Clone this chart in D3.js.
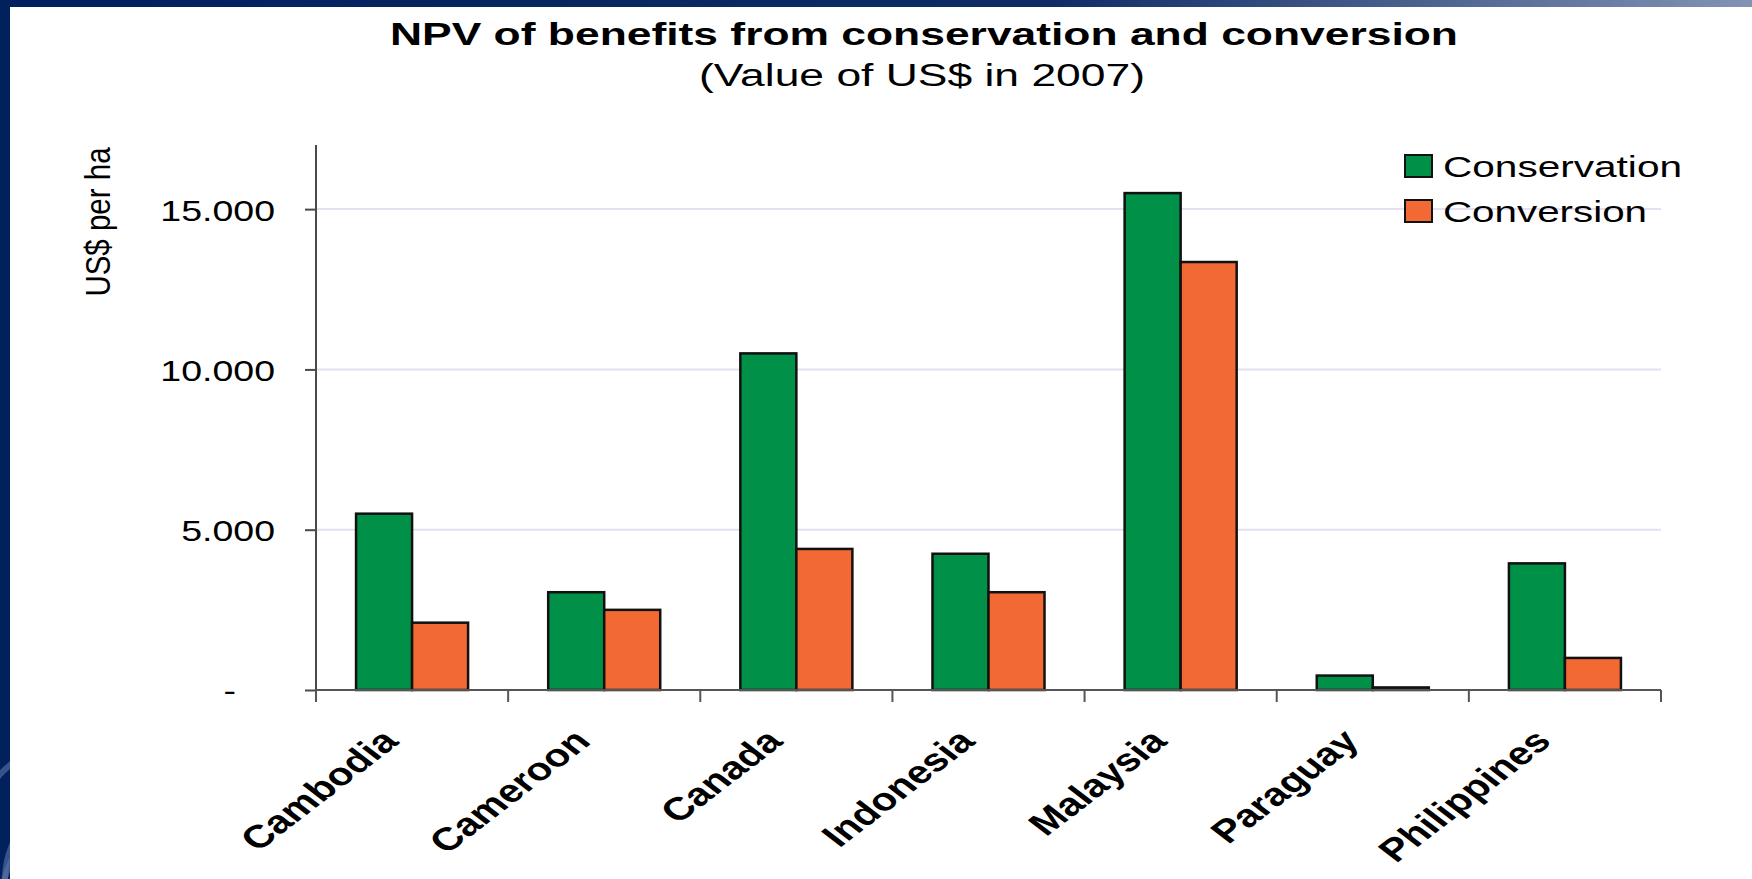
<!DOCTYPE html>
<html>
<head>
<meta charset="utf-8">
<script src="https://cdn.jsdelivr.net/npm/d3@7"></script>
<style>
    body { margin: 0; background: #ffffff; overflow: hidden; }
    svg { display: block; }
    text { font-family: "Liberation Sans", Arial, sans-serif; fill: #000000; }
</style>
</head>
<body>
<svg id="chart"></svg>
<script>
// Data ----------------------------------------
const countries = ["Cambodia", "Cameroon", "Canada", "Indonesia", "Malaysia", "Paraguay", "Philippines"];
const seriesNames = ["Conservation", "Conversion"];
const conservation = [5500, 3050, 10500, 4250, 15500, 450, 3950];
const conversion = [2100, 2500, 4400, 3050, 13350, 80, 1000];
const yTicks = [0, 5000, 10000, 15000];
const yTickLabels = ["-", "5.000", "10.000", "15.000"];
const colors = ["#009048", "#f26933"];

const width = 1752, height = 879;

let svg = d3.select("#chart")
    .attr("width", width)
    .attr("height", height);

// Slide frame ----------------------------------------
let defs = svg.append("defs");
let grad = defs.append("linearGradient").attr("id", "topGrad");
grad.append("stop").attr("offset", "0%").attr("stop-color", "#00215c");
grad.append("stop").attr("offset", "60%").attr("stop-color", "#0f2c66");
grad.append("stop").attr("offset", "100%").attr("stop-color", "#8293b4");

svg.append("rect").attr("x", 0).attr("y", 0).attr("width", width).attr("height", 7).attr("fill", "url(#topGrad)");
svg.append("rect").attr("x", 0).attr("y", 0).attr("width", 10).attr("height", height).attr("fill", "#00215c");

// faint swirl at the bottom of the left strip
defs.append("clipPath").attr("id", "stripClip")
    .append("rect").attr("x", 0).attr("y", 0).attr("width", 10).attr("height", height);
let swirl = svg.append("g").attr("clip-path", "url(#stripClip)");
[[80, 850, 110], [95, 880, 90], [110, 910, 110]].forEach(c => {
    swirl.append("circle")
        .attr("cx", c[0]).attr("cy", c[1]).attr("r", c[2])
        .attr("fill", "none")
        .attr("stroke", "#5a74a8")
        .attr("stroke-opacity", 0.6)
        .attr("stroke-width", 6);
});

// Scales ----------------------------------------
let x0 = d3.scaleBand()
    .domain(countries)
    .range([316, 1661])
    .paddingInner(0)
    .paddingOuter(0);

let x1 = d3.scaleBand()
    .domain(seriesNames)
    .range([0, x0.bandwidth()])
    .paddingInner(0)
    .paddingOuter(0.715);

let y = d3.scaleLinear()
    .domain([0, 17000])
    .range([690, 145]);

// Gridlines
svg.append("g")
    .selectAll("line")
    .data(yTicks.filter(d => d > 0))
    .enter().append("line")
    .attr("x1", x0.range()[0])
    .attr("x2", x0.range()[1])
    .attr("y1", d => y(d))
    .attr("y2", d => y(d))
    .attr("stroke", "#e4e0f2")
    .attr("stroke-width", 2);

// Bars ----------------------------------------
let groups = svg.append("g")
    .selectAll("g")
    .data(countries)
    .enter().append("g")
    .attr("transform", d => `translate(${x0(d)},0)`);

groups.selectAll("rect")
    .data((d, i) => [
        { key: seriesNames[0], value: conservation[i], c: colors[0] },
        { key: seriesNames[1], value: conversion[i], c: colors[1] }
    ])
    .enter().append("rect")
    .attr("x", d => x1(d.key))
    .attr("y", d => y(d.value))
    .attr("width", x1.bandwidth())
    .attr("height", d => y(0) - y(d.value))
    .attr("fill", d => d.c)
    .attr("stroke", "#111111")
    .attr("stroke-width", 2.5);

// Axes ----------------------------------------
let yAxis = svg.append("g")
    .attr("transform", `translate(${x0.range()[0]},0)`)
    .call(d3.axisLeft(y).tickValues(yTicks).tickSize(11).tickFormat(""));
yAxis.select(".domain").attr("d", `M0,${y.range()[1]}V${y(0) + 12}`);
yAxis.selectAll("line, path").attr("stroke", "#4a4a4a").attr("stroke-width", 2);

// tick labels, stretched wide like the original
yAxis.selectAll(".tick")
    .append("text")
    .attr("transform", (d, i) => i === 0 ? "translate(-80,10) scale(1.25,1)" : "translate(-41,11) scale(1.25,1)")
    .attr("text-anchor", "end")
    .attr("font-size", "30px")
    .text((d, i) => yTickLabels[i]);

let boundaries = countries.map(d => x0(d)).concat([x0.range()[1]]);
let xAxis = svg.append("g");
xAxis.append("line")
    .attr("x1", x0.range()[0]).attr("x2", x0.range()[1])
    .attr("y1", y(0)).attr("y2", y(0))
    .attr("stroke", "#555555").attr("stroke-width", 2);
xAxis.selectAll("line.tick")
    .data(boundaries)
    .enter().append("line")
    .attr("class", "tick")
    .attr("x1", d => d).attr("x2", d => d)
    .attr("y1", y(0)).attr("y2", y(0) + 12)
    .attr("stroke", "#555555").attr("stroke-width", 2);

// Category labels, rotated
xAxis.selectAll("text")
    .data(countries)
    .enter().append("text")
    .attr("transform", d => `translate(${x0(d) + x0.bandwidth() / 2 - 12},${y(0) + 53}) scale(1.3,1) rotate(-45)`)
    .attr("text-anchor", "end")
    .attr("font-size", "32px")
    .attr("font-weight", "bold")
    .text(d => d);

// Y axis title
svg.append("text")
    .attr("transform", "translate(110,222) scale(1.2,1) rotate(-90)")
    .attr("text-anchor", "middle")
    .attr("font-size", "29.5px")
    .text("US$ per ha");

// Titles ----------------------------------------
svg.append("text")
    .attr("x", 390).attr("y", 45)
    .attr("font-size", "31px")
    .attr("font-weight", "bold")
    .attr("textLength", 1068)
    .attr("lengthAdjust", "spacingAndGlyphs")
    .text("NPV of benefits from conservation and conversion");

svg.append("text")
    .attr("x", 699).attr("y", 86)
    .attr("font-size", "31px")
    .attr("textLength", 446)
    .attr("lengthAdjust", "spacingAndGlyphs")
    .text("(Value of US$ in 2007)");

// Legend ----------------------------------------
let legend = svg.append("g")
    .selectAll("g")
    .data(seriesNames)
    .enter().append("g")
    .attr("transform", (d, i) => `translate(1405,${155 + i * 45})`);

legend.append("rect")
    .attr("width", 27).attr("height", 22)
    .attr("fill", (d, i) => colors[i])
    .attr("stroke", "#111111")
    .attr("stroke-width", 2);

legend.append("text")
    .attr("x", 38).attr("y", 22)
    .attr("font-size", "30px")
    .attr("textLength", (d, i) => i === 0 ? 239 : 204)
    .attr("lengthAdjust", "spacingAndGlyphs")
    .text(d => d);
</script>
</body>
</html>
